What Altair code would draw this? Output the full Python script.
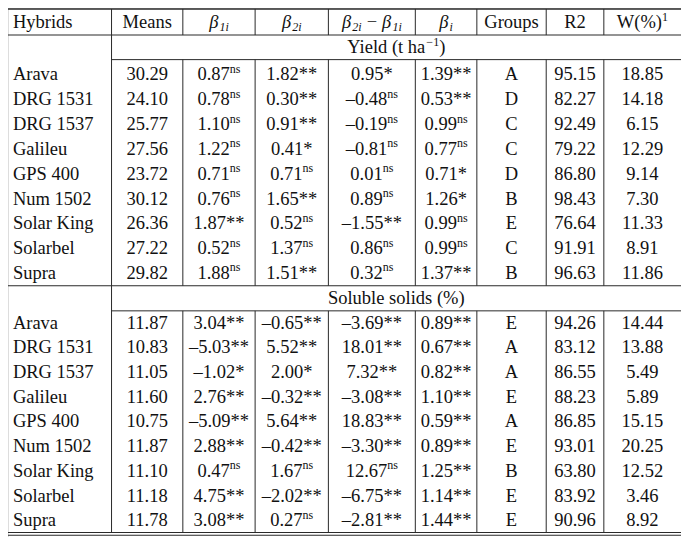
import altair as alt
import pandas as pd

# ---------------- data ----------------
hybrids = ["Arava", "DRG 1531", "DRG 1537", "Galileu", "GPS 400",
           "Num 1502", "Solar King", "Solarbel", "Supra"]

# Yield (t ha-1)
y_means = [30.29, 24.10, 25.77, 27.56, 23.72, 30.12, 26.36, 27.22, 29.82]
y_b1 = [0.87, 0.78, 1.10, 1.22, 0.71, 0.76, 1.87, 0.52, 1.88]
y_b1_sig = ["ns", "ns", "ns", "ns", "ns", "ns", "**", "ns", "ns"]
y_b2 = [1.82, 0.30, 0.91, 0.41, 0.71, 1.65, 0.52, 1.37, 1.51]
y_b2_sig = ["**", "**", "**", "*", "ns", "**", "ns", "ns", "**"]
y_diff = [0.95, -0.48, -0.19, -0.81, 0.01, 0.89, -1.55, 0.86, 0.32]
y_diff_sig = ["*", "ns", "ns", "ns", "ns", "ns", "**", "ns", "ns"]
y_bi = [1.39, 0.53, 0.99, 0.77, 0.71, 1.26, 0.99, 0.99, 1.37]
y_bi_sig = ["**", "**", "ns", "ns", "*", "*", "ns", "ns", "**"]
y_groups = ["A", "D", "C", "C", "D", "B", "E", "C", "B"]
y_r2 = [95.15, 82.27, 92.49, 79.22, 86.80, 98.43, 76.64, 91.91, 96.63]
y_w = [18.85, 14.18, 6.15, 12.29, 9.14, 7.30, 11.33, 8.91, 11.86]

# Soluble solids (%)
s_means = [11.87, 10.83, 11.05, 11.60, 10.75, 11.87, 11.10, 11.18, 11.78]
s_b1 = [3.04, -5.03, -1.02, 2.76, -5.09, 2.88, 0.47, 4.75, 3.08]
s_b1_sig = ["**", "**", "*", "**", "**", "**", "ns", "**", "**"]
s_b2 = [-0.65, 5.52, 2.00, -0.32, 5.64, -0.42, 1.67, -2.02, 0.27]
s_b2_sig = ["**", "**", "*", "**", "**", "**", "ns", "**", "ns"]
s_diff = [-3.69, 18.01, 7.32, -3.08, 18.83, -3.30, 12.67, -6.75, -2.81]
s_diff_sig = ["**", "**", "**", "**", "**", "**", "ns", "**", "**"]
s_bi = [0.89, 0.67, 0.82, 1.10, 0.59, 0.89, 1.25, 1.14, 1.44]
s_bi_sig = ["**", "**", "**", "**", "**", "**", "**", "**", "**"]
s_groups = ["E", "A", "A", "E", "A", "E", "B", "E", "E"]
s_r2 = [94.26, 83.12, 86.55, 88.23, 86.85, 93.01, 63.80, 83.92, 90.96]
s_w = [14.44, 13.88, 5.49, 5.89, 15.15, 20.25, 12.52, 3.46, 8.92]

# ---------------- layout (table units) ----------------
W_PX, H_PX = 673, 529
X_DOM = [0, 689]
Y_DOM = [2, 540]
SX = W_PX / (X_DOM[1] - X_DOM[0])
SY = H_PX / (Y_DOM[1] - Y_DOM[0])

EDGES = [0, 106, 179, 253, 328, 417, 480, 551, 610, 689]
CENT = [(EDGES[i] + EDGES[i + 1]) / 2 for i in range(len(EDGES) - 1)]
Y_TOP, Y_HEAD, Y_SUB1, Y_SEP, Y_SUB2, Y_BOT = 3, 29.5, 54.5, 284.5, 310, 536
HEAD_Y = 16.5
SUB1_Y, SUB2_Y = 42, 297
ROW1_Y0, ROW1_STEP = 69.5, 25.25
ROW2_Y0, ROW2_STEP = 322, 25.12

FS, FSS = 18.5, 12
FONT = "Liberation Serif"
TXT = "#111111"
LINE = "#2a2a2a"

EM = {str(d): 0.5 for d in range(10)}
EM.update({".": 0.25, "–": 0.5, "−": 0.564, "*": 0.5, " ": 0.25, "(": 0.333,
           ")": 0.333, "%": 0.833, "n": 0.5, "s": 0.389, "i": 0.278,
           "β": 0.56, "W": 0.944, "Y": 0.722, "e": 0.444, "l": 0.278,
           "d": 0.5, "t": 0.278, "h": 0.5, "a": 0.444})


def width(text, fs):
    return sum(EM.get(c, 0.5) for c in text) * fs


def fmt(v):
    s = f"{abs(v):.2f}"
    return "–" + s if v < 0 else s


center_rows, left_rows, ital_rows = [], [], []


def add_runs(cx, cy, runs):
    """runs: (text, fontsize, italic, dy_px, width_override); empty text = gap"""
    tot = sum((r[4] if r[4] is not None else width(r[0], r[1])) for r in runs)
    x = cx - tot / 2 / SX
    for text, fs, ital, dy, wo in runs:
        w = wo if wo is not None else width(text, fs)
        if text:
            rec = {"x": x, "y": cy + dy / SY, "t": text, "fs": fs}
            (ital_rows if ital else left_rows).append(rec)
        x += w / SX


def add_cell(cx, cy, val, sig):
    base = fmt(val)
    if sig == "ns":
        add_runs(cx, cy, [(base, FS, False, 0, None), ("ns", FSS, False, -5.5, None)])
    else:
        add_runs(cx, cy, [(base + sig, FS, False, 0, None)])


SUBDY = 4.5
# header
left_rows.append({"x": 5, "y": HEAD_Y, "t": "Hybrids", "fs": FS})
center_rows.append({"x": CENT[1], "y": HEAD_Y, "t": "Means", "fs": FS})
add_runs(CENT[2], HEAD_Y, [("β", FS, True, 0, None), ("1i", FSS, True, SUBDY, None)])
add_runs(CENT[3], HEAD_Y, [("β", FS, True, 0, None), ("2i", FSS, True, SUBDY, None)])
add_runs(CENT[4], HEAD_Y, [("β", FS, True, 0, None), ("2i", FSS, True, SUBDY, None),
                           ("", FS, False, 0, 5), ("−", FS, False, 0, None),
                           ("", FS, False, 0, 5), ("β", FS, True, 0, None),
                           ("1i", FSS, True, SUBDY, None)])
add_runs(CENT[5], HEAD_Y, [("β", FS, True, 0, None), ("i", FSS, True, SUBDY, None)])
center_rows.append({"x": CENT[6], "y": HEAD_Y, "t": "Groups", "fs": FS})
center_rows.append({"x": CENT[7], "y": HEAD_Y, "t": "R2", "fs": FS})
add_runs(CENT[8], HEAD_Y, [("W(%)", FS, False, 0, None), ("1", FSS, False, -5.5, None)])

sub_cx = (EDGES[1] + EDGES[-1]) / 2
add_runs(sub_cx, SUB1_Y, [("Yield (t ha", FS, False, 0, None), ("−1", FSS, False, -5.5, None),
                          (")", FS, False, 0, None)])
center_rows.append({"x": sub_cx, "y": SUB2_Y, "t": "Soluble solids (%)", "fs": FS})

blocks = [
    (ROW1_Y0, ROW1_STEP, y_means, y_b1, y_b1_sig, y_b2, y_b2_sig, y_diff, y_diff_sig,
     y_bi, y_bi_sig, y_groups, y_r2, y_w),
    (ROW2_Y0, ROW2_STEP, s_means, s_b1, s_b1_sig, s_b2, s_b2_sig, s_diff, s_diff_sig,
     s_bi, s_bi_sig, s_groups, s_r2, s_w),
]
for (y0, st, means, b1, b1s, b2, b2s, df, dfs, bi, bis, grp, r2, w) in blocks:
    for i, h in enumerate(hybrids):
        cy = y0 + i * st
        left_rows.append({"x": 5, "y": cy, "t": h, "fs": FS})
        center_rows.append({"x": CENT[1], "y": cy, "t": f"{means[i]:.2f}", "fs": FS})
        add_cell(CENT[2], cy, b1[i], b1s[i])
        add_cell(CENT[3], cy, b2[i], b2s[i])
        add_cell(CENT[4], cy, df[i], dfs[i])
        add_cell(CENT[5], cy, bi[i], bis[i])
        center_rows.append({"x": CENT[6], "y": cy, "t": grp[i], "fs": FS})
        center_rows.append({"x": CENT[7], "y": cy, "t": f"{r2[i]:.2f}", "fs": FS})
        center_rows.append({"x": CENT[8], "y": cy, "t": f"{w[i]:.2f}", "fs": FS})

# rules
rules = []
for yy, x0, sw in [(Y_TOP, 0, 1.3), (Y_HEAD, 0, 1.1), (Y_SUB1, EDGES[1], 1.0),
                   (Y_SEP, 0, 1.1), (Y_SUB2, EDGES[1], 1.0),
                   (Y_BOT - 0.6, 0, 1.1), (Y_BOT + 2.2, 0, 1.1)]:
    rules.append({"x": x0, "x2": EDGES[-1], "y": yy, "y2": yy, "sw": sw})
rules.append({"x": EDGES[1], "x2": EDGES[1], "y": Y_TOP, "y2": Y_BOT - 0.6, "sw": 1.0})
for e in EDGES[2:-1]:
    for a, b in [(Y_TOP, Y_HEAD), (Y_SUB1, Y_SEP), (Y_SUB2, Y_BOT - 0.6)]:
        rules.append({"x": e, "x2": e, "y": a, "y2": b, "sw": 1.0})

xs = alt.Scale(domain=X_DOM, nice=False, zero=False)
ys = alt.Scale(domain=Y_DOM, nice=False, zero=False, reverse=True)

rule_layer = alt.Chart(pd.DataFrame(rules)).mark_rule(color=LINE).encode(
    x=alt.X("x:Q", scale=xs, axis=None), x2="x2:Q",
    y=alt.Y("y:Q", scale=ys, axis=None), y2="y2:Q",
    strokeWidth=alt.StrokeWidth("sw:Q", scale=None, legend=None),
)


def text_layer(rows, align, style):
    return alt.Chart(pd.DataFrame(rows)).mark_text(
        align=align, baseline="middle", font=FONT, fontStyle=style, color=TXT
    ).encode(
        x=alt.X("x:Q", scale=xs, axis=None),
        y=alt.Y("y:Q", scale=ys, axis=None),
        text="t:N",
        size=alt.Size("fs:Q", scale=None, legend=None),
    )


chart = alt.layer(
    rule_layer,
    text_layer(center_rows, "center", "normal"),
    text_layer(left_rows, "left", "normal"),
    text_layer(ital_rows, "left", "italic"),
).properties(
    width=W_PX, height=H_PX, padding=0,
    autosize=alt.AutoSizeParams(type="none"),
).configure_view(stroke=None).configure(background="white")

chart.save("out.html", embed_options={"renderer": "svg", "actions": False})
